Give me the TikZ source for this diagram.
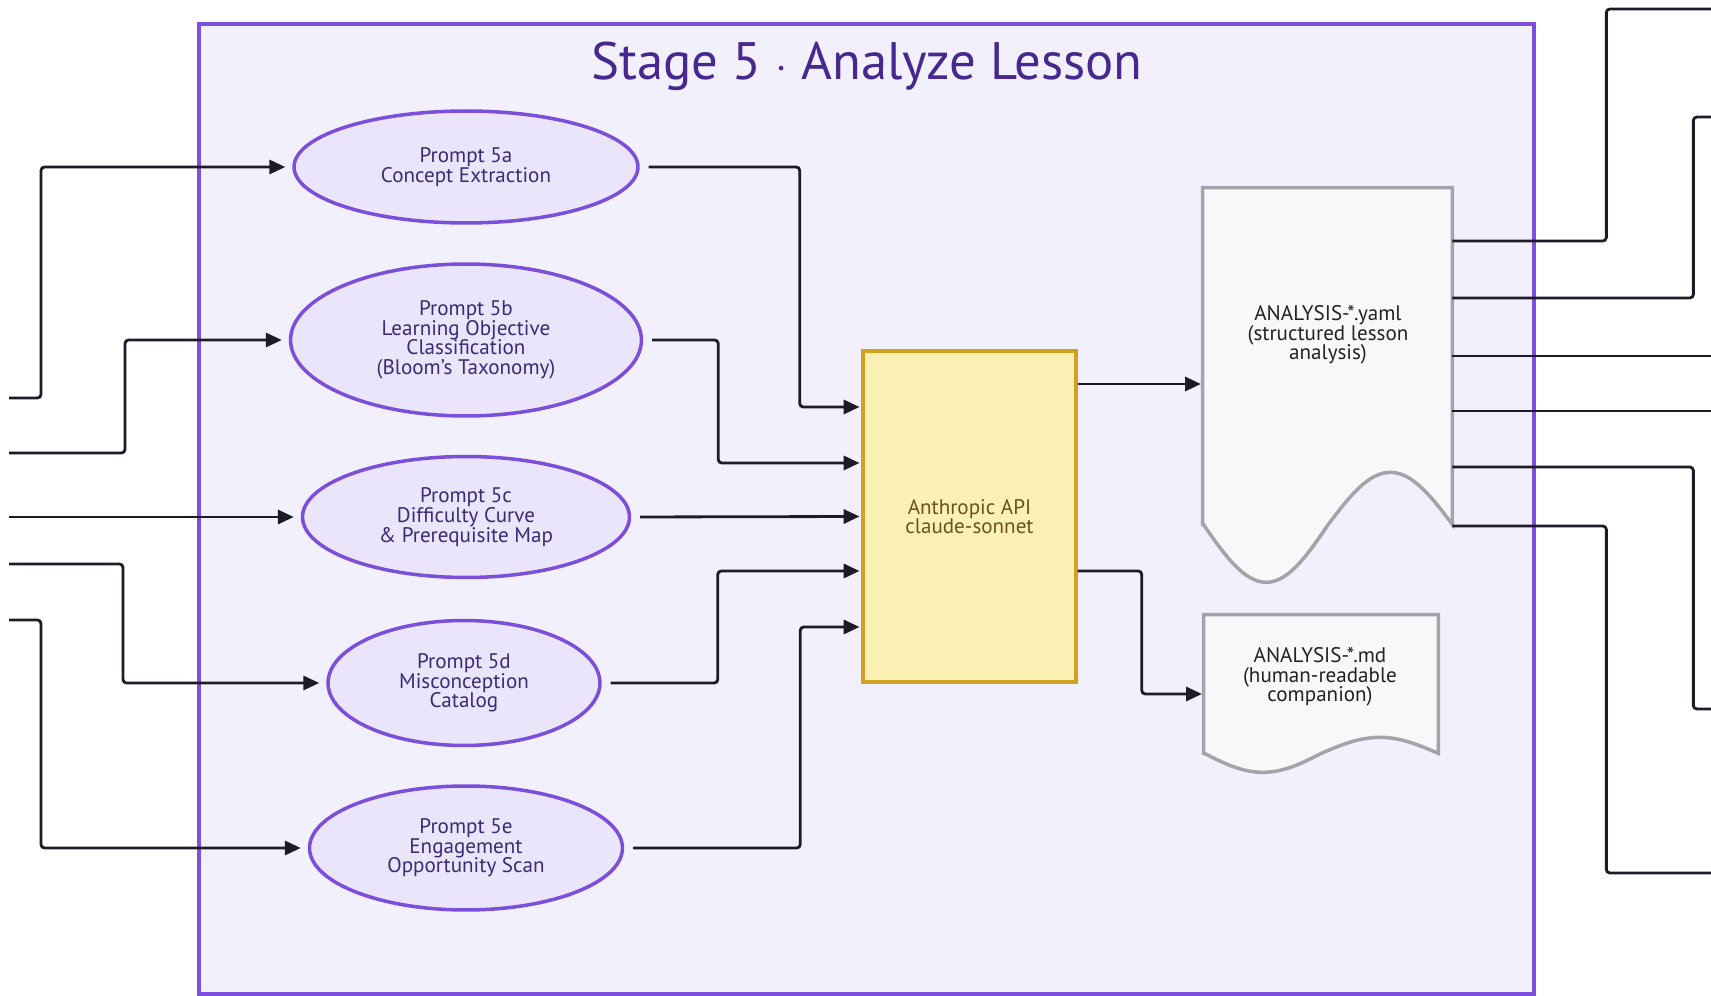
\documentclass[tikz,border=0pt]{standalone}
\usepackage{fontspec}
\setmainfont{PT Sans}
\usetikzlibrary{arrows.meta,shapes.geometric}

\definecolor{framefill}{HTML}{F3F0FD}
\definecolor{frameline}{HTML}{7C50DC}
\definecolor{titleink}{HTML}{47288F}
\definecolor{promptfill}{HTML}{EAE5FA}
\definecolor{promptline}{HTML}{7C4FDA}
\definecolor{promptink}{HTML}{3C2A75}
\definecolor{apifill}{HTML}{FCF1B4}
\definecolor{apiline}{HTML}{D4A021}
\definecolor{apiink}{HTML}{6E5020}
\definecolor{docfill}{HTML}{F8F8FA}
\definecolor{docline}{HTML}{A3A3A9}
\definecolor{docink}{HTML}{222222}
\definecolor{wireink}{HTML}{1C1C28}

\tikzset{
  stagebox/.style={draw=frameline, fill=framefill, line width=2.2pt, minimum width=26.7cm, minimum height=19.4cm},
  prompt/.style={ellipse, draw=promptline, fill=promptfill, line width=2pt, inner sep=0pt,
    align=center, text=promptink, font=\fontsize{12}{11.2}\selectfont},
  apibox/.style={draw=apiline, fill=apifill, line width=2pt, minimum width=4.26cm, minimum height=6.62cm,
    align=center, text=apiink, font=\fontsize{12}{11.2}\selectfont},
  docbox/.style={minimum width=#1, inner sep=0pt},
  docshape/.style={draw=docline, fill=docfill, line width=2pt},
  doctext/.style={align=center, text=docink, font=\fontsize{12}{11.2}\selectfont},
  wire/.style={draw=wireink, line width=1.6pt, rounded corners=2pt},
  flow/.style={wire, -{Triangle[length=9pt,width=8pt]}, shorten >=1pt},
}

\begin{document}
\begin{tikzpicture}[x=0.02cm, y=-0.02cm]
  \useasboundingbox (0,0) rectangle (1711,996);

  % stage frame and title
  \node[stagebox] (stage) at (866.5,509) {};
  \node[anchor=base, text=titleink, font=\fontsize{30}{32}\selectfont] (title) at (867,80) {Stage 5 $\cdot$ Analyze Lesson};

  % prompts
  \node[prompt, minimum width=6.88cm, minimum height=2.24cm] (p5a) at (466,167) {Prompt 5a\\Concept Extraction};
  \node[prompt, minimum width=7.02cm, minimum height=3.04cm] (p5b) at (466,340) {Prompt 5b\\Learning Objective\\Classification\\(Bloom's Taxonomy)};
  \node[prompt, minimum width=6.54cm, minimum height=2.42cm] (p5c) at (466,517) {Prompt 5c\\Difficulty Curve\\\& Prerequisite Map};
  \node[prompt, minimum width=5.44cm, minimum height=2.50cm] (p5d) at (464,683) {Prompt 5d\\Misconception\\Catalog};
  \node[prompt, minimum width=6.26cm, minimum height=2.48cm] (p5e) at (466,848) {Prompt 5e\\Engagement\\Opportunity Scan};

  \node[apibox] (api) at (969.5,516.5) {Anthropic API\\claude-sonnet};

  % output documents
  \node[docbox=4.98cm, minimum height=6.72cm] (yaml) at (1327.5,356) {};
  \draw[docshape] (yaml.south west) -- (yaml.north west) -- (yaml.north east) -- (yaml.south east)
    sin ++(-62,-52) cos ++(-62,52) sin ++(-62,58) cos ++(-63,-58) -- cycle;
  \node[doctext] (yamltext) at (1328,335) {ANALYSIS-*.yaml\\(structured lesson\\analysis)};

  \node[docbox=4.68cm, minimum height=2.76cm] (md) at (1321,684) {};
  \draw[docshape] (md.south west) -- (md.north west) -- (md.north east) -- (md.south east)
    sin ++(-58.5,-16) cos ++(-58.5,16) sin ++(-58.5,19) cos ++(-58.5,-19) -- cycle;
  \node[doctext] (mdtext) at (1320,677) {ANALYSIS-*.md\\(human-readable\\companion)};

  % loose ends
  \coordinate (in1) at (9,398);
  \coordinate (in2) at (9,453);
  \coordinate (in3) at (9,517);
  \coordinate (in4) at (9,564);
  \coordinate (in5) at (9,620);
  \coordinate (out1) at (1711,9);
  \coordinate (out2) at (1711,117);
  \coordinate (out3) at (1711,356);
  \coordinate (out4) at (1711,411);
  \coordinate (out5) at (1711,709);
  \coordinate (out6) at (1711,873);

  % inputs
  \draw[flow, shorten >=4pt] (in1) -- ++(32,0) |- (p5a.west);
  \draw[flow, shorten >=4pt] (in2) -- ++(116,0) |- (p5b.west);
  \draw[flow, shorten >=4pt] (in3) -- (p5c.west);
  \draw[flow, shorten >=4pt] (in4) -- ++(114,0) |- (p5d.west);
  \draw[flow, shorten >=4pt] (in5) -- ++(32,0) |- (p5e.west);

  % prompts into the api
  \draw[flow, shorten <=5pt] (p5a.east) -- ++(160,0) |- (api.west |- 0,407);
  \draw[flow, shorten <=5pt] (p5b.east) -- ++(75,0) |- (api.west |- 0,463);
  \draw[flow, shorten <=5pt] (p5c.east) -- (api.west);
  \draw[flow, shorten <=5pt] (p5d.east) -- ++(116,0) |- (api.west |- 0,571);
  \draw[flow, shorten <=5pt] (p5e.east) -- ++(176,0) |- (api.west |- 0,627);

  % api to documents
  \draw[flow] (api.east |- 0,384) -- (yaml.west |- 0,384);
  \draw[flow] (api.east |- 0,571) -- ++(64,0) |- (md.west |- 0,694);

  % outputs
  \draw[wire] (yaml.east |- 0,241) -- ++(154,0) |- (out1);
  \draw[wire] (yaml.east |- 0,298) -- ++(241,0) |- (out2);
  \draw[wire] (yaml.east |- 0,356) -- (out3);
  \draw[wire] (yaml.east |- 0,411) -- (out4);
  \draw[wire] (yaml.east |- 0,467) -- ++(241,0) |- (out5);
  \draw[wire] (yaml.east |- 0,526) -- ++(154,0) |- (out6);
\end{tikzpicture}
\end{document}
